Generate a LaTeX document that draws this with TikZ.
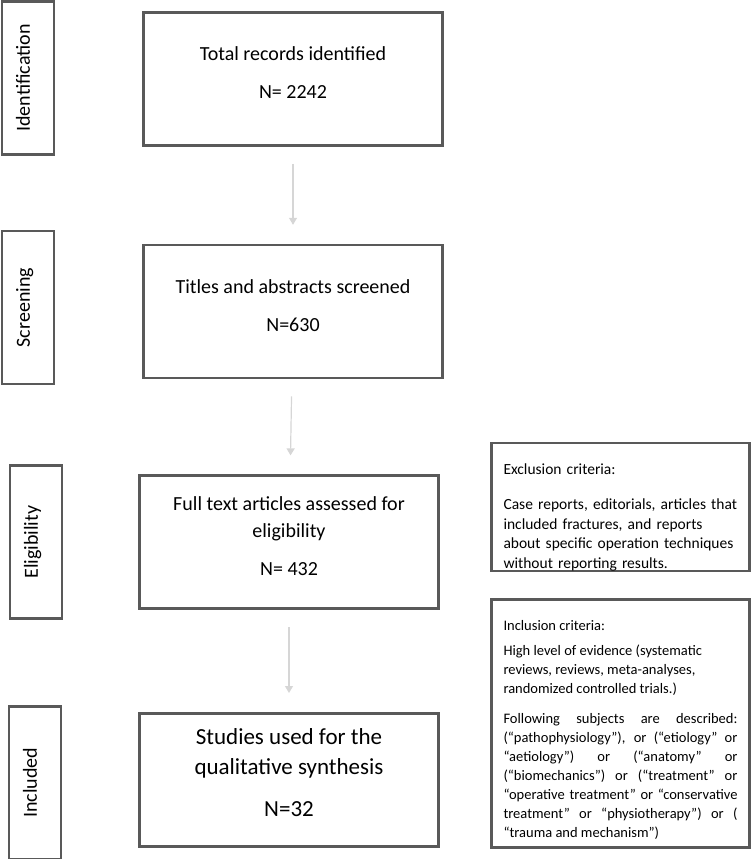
\documentclass[tikz,border=0pt]{standalone}
\usepackage{fontspec}
\setmainfont{Carlito}
\usepackage{graphicx}
\usetikzlibrary{positioning}
\usetikzlibrary{arrows.meta}
\definecolor{boxgray}{RGB}{89, 89, 89}
\definecolor{arrowgray}{RGB}{214, 214, 214}
\newcommand{\stagelabel}[1]{\rotatebox{90}{\rule[-10pt]{0pt}{10pt}#1}}
\tikzset{
  stage/.style    = {shape=rectangle, draw=boxgray, line width=2.6pt,
                     minimum width=52pt, minimum height=153pt, inner sep=0pt,
                     font=\fontsize{20}{24}\selectfont},
  count/.style    = {shape=rectangle, draw=boxgray, line width=2.6pt,
                     minimum width=299pt, minimum height=133pt, align=center,
                     font=\fontsize{20}{24}\selectfont},
  criteria/.style = {shape=rectangle, draw=boxgray, line width=2.6pt,
                     text width=234pt, inner xsep=12.2pt, inner ysep=0pt},
  flow/.style     = {arrowgray, line width=1.2pt, shorten <=17pt, shorten >=19pt,
                     -{Triangle[width=8pt,length=7pt,fill=arrowgray]}}
}

\begin{document}
\begin{tikzpicture}
  \useasboundingbox (0,0) rectangle (752pt,-859pt);
  % stages on the left
  \node [stage] (ident) at (28pt,-78pt) {\stagelabel{Identification}};
  \node [stage] (screen) [below=74pt of ident] {\stagelabel{Screening}};
  \node [stage] (elig) [below=79pt of screen, xshift=8pt] {\stagelabel{Eligibility}};
  \node [stage] (incl) [below=85pt of elig, xshift=-1pt] {\stagelabel{Included}};
  % flow of records
  \node [count] (total) at (293pt,-79pt)
    {Total records identified\\[14pt]N= 2242\\[-12pt]\mbox{}};
  \node [count] (titles) [below=97pt of total]
    {Titles and abstracts screened\\[14pt]N=630\\[-12pt]\mbox{}};
  \node [count] (full) [below=95pt of titles, xshift=-4pt]
    {Full text articles assessed for\\[3pt]eligibility\\[14pt]N= 432\\[-12pt]\mbox{}};
  \node [count, font=\fontsize{23}{28}\selectfont] (studies) [below=102pt of full]
    {Studies used for the\\[2pt]qualitative synthesis\\[14pt]N=32\\[-14pt]\mbox{}};
  \draw [flow] (total) -- (titles);
  \draw [flow] (titles) -- (full);
  \draw [flow] (full) -- (studies);
  % criteria boxes
  \node [criteria, minimum height=126pt, align=left,
         font=\fontsize{15.5}{19.5}\selectfont] (excl) at (620.5pt,-507pt)
    {\rule{0pt}{32pt}Exclusion criteria:\\[15.5pt]
     Case reports, editorials, articles that\\
     included fractures, and reports\\
     about specific operation techniques\\
     without reporting results.};
  \node [criteria, minimum height=248pt, align=justify,
         font=\fontsize{14.5}{19}\selectfont] (inclcrit) [below=26pt of excl]
    {\rule{0pt}{22pt}Inclusion criteria:\\[6pt]
     High level of evidence (systematic\\
     reviews, reviews, meta-analyses,\\
     randomized controlled trials.)\\[11pt]
     Following subjects are described:\linebreak
     (“pathophysiology”), or (“etiology” or\linebreak
     “aetiology”) or (“anatomy” or\linebreak
     (“biomechanics”) or (“treatment” or\linebreak
     “operative treatment” or “conservative\linebreak
     treatment” or “physiotherapy”) or (\linebreak
     “trauma and mechanism”)};
\end{tikzpicture}
\end{document}
